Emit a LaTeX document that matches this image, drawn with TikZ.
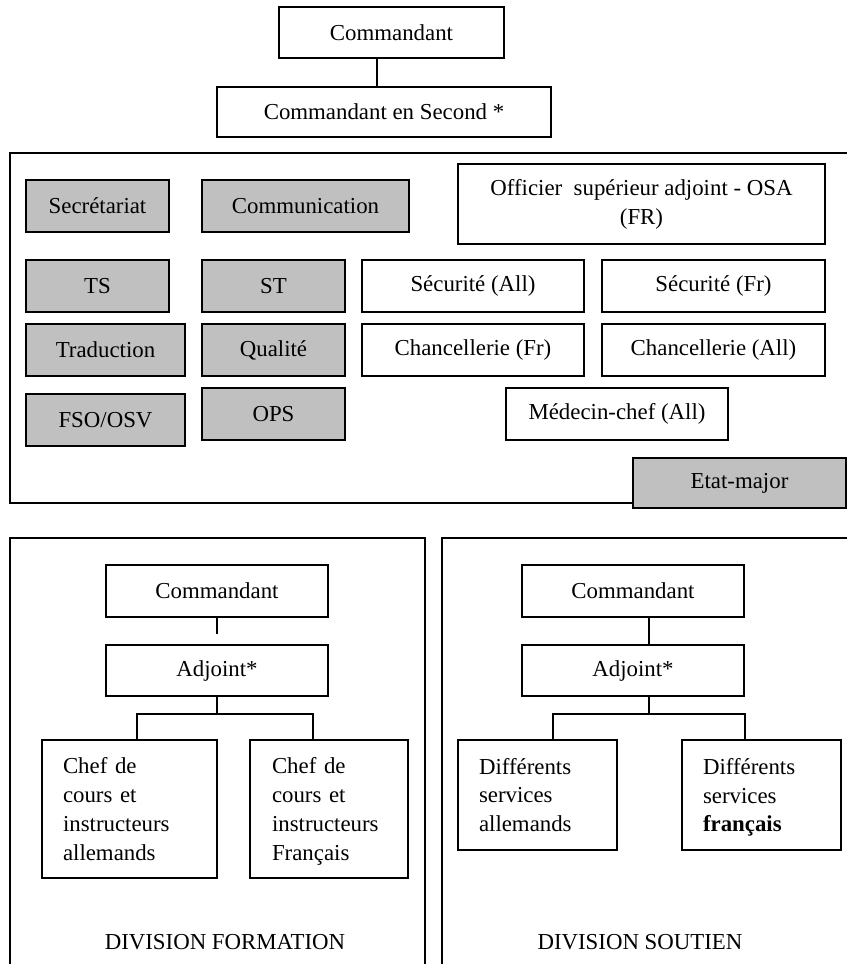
\documentclass[tikz,border=0pt]{standalone}
\usepackage{fontspec}
\setmainfont{Liberation Serif}
\usepackage{xcolor}
\definecolor{staffgray}{RGB}{192,192,192}

\begin{document}
\begin{tikzpicture}[x=0.02cm,y=-0.02cm,line cap=rect,line join=miter,
    box/.style={draw,line width=1.2pt,inner sep=0pt,minimum height=1.04cm},
    staffbox/.style={box,fill=staffgray},
    textbox/.style={draw,line width=1.2pt,inner ysep=0pt,align=left,anchor=center},
    link/.style={line width=1.2pt}]
    \useasboundingbox (0,0) rectangle (847,964);
    \fontsize{13}{16.4}\selectfont
    % direction
    \node[box,minimum width=4.5cm,minimum height=1.02cm] (cmd) at (391.5,32.5) {Commandant};
    \node[box,minimum width=6.68cm,minimum height=1cm] (second) at (384,112) {Commandant en Second *};
    \draw[link] ([xshift=-0.29cm]cmd.south) -- ([xshift=-0.29cm]cmd.south |- second.north);
    % etat-major
    \draw[line width=1.2pt] (850,153) -- (10,153) -- (10,503) -- (850,503);
    \node[staffbox,minimum width=2.86cm] (secr) at (97.5,206) {Secrétariat};
    \node[staffbox,minimum width=4.14cm] (comm) at (305.5,206) {Communication};
    \node[staffbox,minimum width=2.86cm] (ts) at (97.5,286) {TS};
    \node[staffbox,minimum width=2.86cm] (st) at (273.5,286) {ST};
    \node[staffbox,minimum width=3.18cm] (trad) at (105.5,350) {Traduction};
    \node[staffbox,minimum width=2.86cm] (qual) at (273.5,350) {Qualité};
    \node[staffbox,minimum width=3.18cm] (fso) at (105.5,420) {FSO/OSV};
    \node[staffbox,minimum width=2.86cm] (ops) at (273.5,414) {OPS};
    \node[box,minimum width=7.34cm,minimum height=1.6cm,align=center] (osa) at (641.5,204)
        {Officier\ \ supérieur adjoint - OSA\\(FR)};
    \node[box,minimum width=4.44cm] (secall) at (473,286) {Sécurité (All)};
    \node[box,minimum width=4.46cm] (secfr) at (713.5,286) {Sécurité (Fr)};
    \node[box,minimum width=4.44cm] (chfr) at (473,350) {Chancellerie (Fr)};
    \node[box,minimum width=4.46cm] (chall) at (713.5,350) {Chancellerie (All)};
    \node[box,minimum width=4.44cm] (med) at (617,414) {Médecin-chef (All)};
    \node[staffbox,minimum width=4.26cm,minimum height=1cm] (em) at (739.5,483) {Etat-major};
    % division formation
    \draw[line width=1.2pt] (10,964) -- (10,538) -- (425,538) -- (425,964);
    \node[box,minimum width=4.44cm] (fcmd) at (217,591) {Commandant};
    \node[box,minimum width=4.44cm,minimum height=1.02cm] (fadj) at (217,670.5) {Adjoint*};
    \coordinate (fstub) at (217,633);
    \draw[link] (fcmd.south) -- (fstub);
    \node[textbox,inner xsep=0.42cm,text width=2.66cm,minimum height=2.76cm] (fde) at (129.5,809)
        {Chef de\\cours et\\instructeurs\\allemands};
    \node[textbox,inner xsep=0.44cm,text width=2.28cm,minimum height=2.76cm] (ffr) at (329,809)
        {Chef de\\cours et\\instructeurs\\\smash{Français}};
    \draw[link] (fadj.south) -- ++(0,17) -| ([xshift=0.15cm]fde.north);
    \draw[link] (fadj.south) -- ++(0,17) -| ([xshift=-0.32cm]ffr.north);
    \node (lblform) at (225,942) {DIVISION FORMATION};
    % division soutien
    \draw[line width=1.2pt] (442,964) -- (442,538) -- (850,538);
    \node[box,minimum width=4.44cm] (scmd) at (633,591) {Commandant};
    \node[box,minimum width=4.44cm,minimum height=1.02cm] (sadj) at (633,670.5) {Adjoint*};
    \draw[link] ([xshift=0.32cm]scmd.south) -- ([xshift=0.32cm]sadj.north);
    \node[textbox,inner xsep=0.42cm,text width=2.34cm,minimum height=2.2cm] (sde) at (537.5,795)
        {Différents\\services\\allemands};
    \node[textbox,inner xsep=0.42cm,text width=2.34cm,minimum height=2.2cm] (sfr) at (761.5,795)
        {Différents\\services\\\smash{\textbf{français}}};
    \draw[link] ([xshift=0.32cm]sadj.south) -- ++(0,17) -| ([xshift=0.31cm]sde.north);
    \draw[link] ([xshift=0.32cm]sadj.south) -- ++(0,17) -| ([xshift=-0.33cm]sfr.north);
    \node (lblsout) at (640,942) {DIVISION SOUTIEN};
\end{tikzpicture}
\end{document}
